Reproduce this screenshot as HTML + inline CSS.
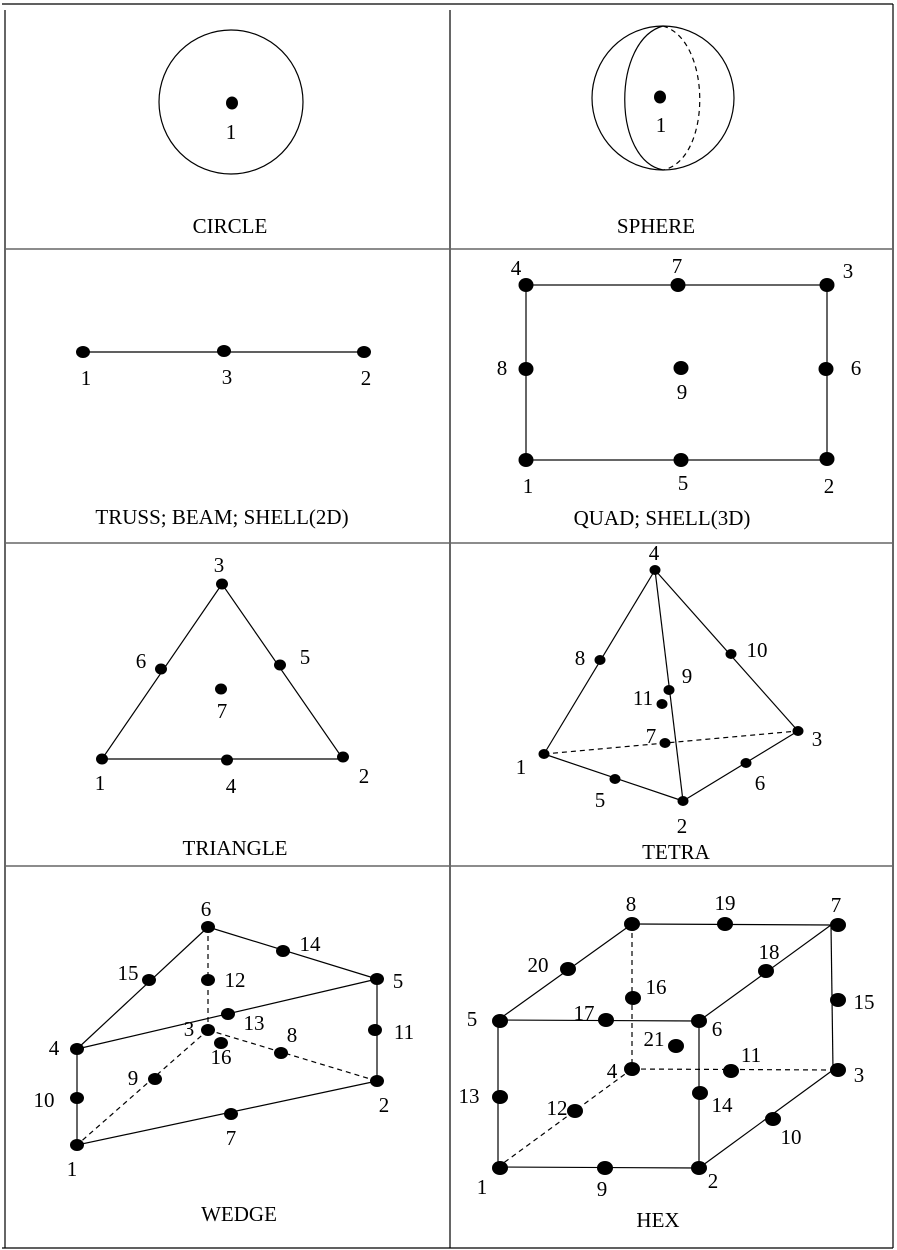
<!DOCTYPE html>
<html><head><meta charset="utf-8"><style>
html,body{margin:0;padding:0;background:#fff}
svg{display:block}
text{font-family:"Liberation Serif",serif;font-size:21px;fill:#000}
.l{stroke:#000;stroke-width:1.2;fill:none}
.d{stroke:#000;stroke-width:1.2;fill:none;stroke-dasharray:5,4}
</style></head><body>
<svg width="897" height="1250" viewBox="0 0 897 1250">
<line x1="2" y1="4" x2="893" y2="4" class="l"/>
<line x1="5" y1="10" x2="5" y2="1248" class="l"/>
<line x1="893" y1="4" x2="893" y2="1248" class="l"/>
<line x1="2" y1="1248" x2="893" y2="1248" class="l"/>
<line x1="450" y1="10" x2="450" y2="1248" class="l"/>
<line x1="5" y1="249" x2="893" y2="249" stroke="#666" stroke-width="1.5"/>
<line x1="5" y1="543" x2="893" y2="543" stroke="#666" stroke-width="1.5"/>
<line x1="5" y1="866" x2="893" y2="866" stroke="#666" stroke-width="1.5"/>

<ellipse cx="231" cy="102" rx="72" ry="72" class="l"/>
<ellipse cx="232" cy="103" rx="6" ry="6.5"/>
<text x="231" y="139" text-anchor="middle">1</text>
<text x="230" y="233" text-anchor="middle">CIRCLE</text>

<ellipse cx="663" cy="98" rx="71" ry="72" class="l"/>
<path d="M663 26 C612 40 612 160 663 170" class="l"/>
<path d="M663 26 C712 40 712 160 663 170" class="d" stroke-dasharray="4,4"/>
<ellipse cx="660" cy="97" rx="6" ry="6.5"/>
<text x="661" y="132" text-anchor="middle">1</text>
<text x="656" y="233" text-anchor="middle">SPHERE</text>

<line x1="83" y1="352" x2="364" y2="352" class="l"/>
<ellipse cx="83" cy="352" rx="7" ry="6"/><ellipse cx="224" cy="351" rx="7" ry="6"/><ellipse cx="364" cy="352" rx="7" ry="6"/>
<text x="86" y="385" text-anchor="middle">1</text>
<text x="227" y="384" text-anchor="middle">3</text>
<text x="366" y="385" text-anchor="middle">2</text>
<text x="222" y="524" text-anchor="middle">TRUSS; BEAM; SHELL(2D)</text>

<rect x="526" y="285" width="301" height="175" class="l"/>
<g>
<ellipse cx="526" cy="285" rx="7.5" ry="7"/><ellipse cx="678" cy="285" rx="7.5" ry="7"/><ellipse cx="827" cy="285" rx="7.5" ry="7"/>
<ellipse cx="526" cy="369" rx="7.5" ry="7"/><ellipse cx="681" cy="368" rx="7.5" ry="7"/><ellipse cx="826" cy="369" rx="7.5" ry="7"/>
<ellipse cx="526" cy="460" rx="7.5" ry="7"/><ellipse cx="681" cy="460" rx="7.5" ry="7"/><ellipse cx="827" cy="459" rx="7.5" ry="7"/>
</g>
<text x="516" y="275" text-anchor="middle">4</text>
<text x="677" y="273" text-anchor="middle">7</text>
<text x="848" y="278" text-anchor="middle">3</text>
<text x="502" y="375" text-anchor="middle">8</text>
<text x="682" y="399" text-anchor="middle">9</text>
<text x="856" y="375" text-anchor="middle">6</text>
<text x="528" y="493" text-anchor="middle">1</text>
<text x="683" y="490" text-anchor="middle">5</text>
<text x="829" y="493" text-anchor="middle">2</text>
<text x="662" y="525" text-anchor="middle">QUAD; SHELL(3D)</text>

<polygon points="222,584 102,759 343,759" class="l"/>
<g>
<ellipse cx="222" cy="584" rx="6" ry="5.5"/><ellipse cx="161" cy="669" rx="6" ry="5.5"/><ellipse cx="280" cy="665" rx="6" ry="5.5"/>
<ellipse cx="221" cy="689" rx="6" ry="5.5"/><ellipse cx="102" cy="759" rx="6" ry="5.5"/><ellipse cx="227" cy="760" rx="6" ry="5.5"/><ellipse cx="343" cy="757" rx="6" ry="5.5"/>
</g>
<text x="219" y="572" text-anchor="middle">3</text>
<text x="141" y="668" text-anchor="middle">6</text>
<text x="305" y="664" text-anchor="middle">5</text>
<text x="222" y="718" text-anchor="middle">7</text>
<text x="100" y="790" text-anchor="middle">1</text>
<text x="231" y="793" text-anchor="middle">4</text>
<text x="364" y="783" text-anchor="middle">2</text>
<text x="235" y="855" text-anchor="middle">TRIANGLE</text>

<line x1="655" y1="570" x2="544" y2="754" class="l"/>
<line x1="655" y1="570" x2="798" y2="731" class="l"/>
<line x1="655" y1="570" x2="683" y2="801" class="l"/>
<line x1="544" y1="754" x2="683" y2="801" class="l"/>
<line x1="683" y1="801" x2="798" y2="731" class="l"/>
<line x1="544" y1="754" x2="798" y2="731" class="d" stroke-dasharray="4,3"/>
<g>
<ellipse cx="655" cy="570" rx="5.5" ry="5"/><ellipse cx="600" cy="660" rx="5.5" ry="5"/><ellipse cx="731" cy="654" rx="5.5" ry="5"/>
<ellipse cx="669" cy="690" rx="5.5" ry="5"/><ellipse cx="662" cy="704" rx="5.5" ry="5"/><ellipse cx="665" cy="743" rx="5.5" ry="5"/>
<ellipse cx="798" cy="731" rx="5.5" ry="5"/><ellipse cx="544" cy="754" rx="5.5" ry="5"/><ellipse cx="746" cy="763" rx="5.5" ry="5"/>
<ellipse cx="615" cy="779" rx="5.5" ry="5"/><ellipse cx="683" cy="801" rx="5.5" ry="5"/>
</g>
<text x="654" y="560" text-anchor="middle">4</text>
<text x="580" y="665" text-anchor="middle">8</text>
<text x="757" y="657" text-anchor="middle">10</text>
<text x="687" y="683" text-anchor="middle">9</text>
<text x="643" y="705" text-anchor="middle">11</text>
<text x="651" y="743" text-anchor="middle">7</text>
<text x="817" y="746" text-anchor="middle">3</text>
<text x="521" y="774" text-anchor="middle">1</text>
<text x="760" y="790" text-anchor="middle">6</text>
<text x="600" y="807" text-anchor="middle">5</text>
<text x="682" y="833" text-anchor="middle">2</text>
<text x="676" y="859" text-anchor="middle">TETRA</text>

<line x1="208" y1="927" x2="377" y2="979" class="l"/>
<line x1="208" y1="927" x2="77" y2="1049" class="l"/>
<line x1="77" y1="1049" x2="377" y2="979" class="l"/>
<line x1="377" y1="979" x2="377" y2="1081" class="l"/>
<line x1="77" y1="1049" x2="77" y2="1145" class="l"/>
<line x1="77" y1="1145" x2="377" y2="1081" class="l"/>
<line x1="208" y1="927" x2="208" y2="1030" class="d" stroke-dasharray="3,3"/>
<line x1="208" y1="1030" x2="377" y2="1081" class="d"/>
<line x1="208" y1="1030" x2="77" y2="1145" class="d"/>
<g>
<ellipse cx="208" cy="927" rx="7" ry="6"/><ellipse cx="283" cy="951" rx="7" ry="6"/><ellipse cx="149" cy="980" rx="7" ry="6"/>
<ellipse cx="377" cy="979" rx="7" ry="6"/><ellipse cx="208" cy="980" rx="7" ry="6"/><ellipse cx="228" cy="1014" rx="7" ry="6"/>
<ellipse cx="375" cy="1030" rx="7" ry="6"/><ellipse cx="208" cy="1030" rx="7" ry="6"/><ellipse cx="221" cy="1043" rx="7" ry="6"/>
<ellipse cx="281" cy="1053" rx="7" ry="6"/><ellipse cx="77" cy="1049" rx="7" ry="6"/><ellipse cx="155" cy="1079" rx="7" ry="6"/>
<ellipse cx="377" cy="1081" rx="7" ry="6"/><ellipse cx="77" cy="1098" rx="7" ry="6"/><ellipse cx="231" cy="1114" rx="7" ry="6"/>
<ellipse cx="77" cy="1145" rx="7" ry="6"/>
</g>
<text x="206" y="916" text-anchor="middle">6</text>
<text x="310" y="951" text-anchor="middle">14</text>
<text x="128" y="980" text-anchor="middle">15</text>
<text x="398" y="988" text-anchor="middle">5</text>
<text x="235" y="987" text-anchor="middle">12</text>
<text x="254" y="1030" text-anchor="middle">13</text>
<text x="404" y="1039" text-anchor="middle">11</text>
<text x="189" y="1036" text-anchor="middle">3</text>
<text x="54" y="1055" text-anchor="middle">4</text>
<text x="292" y="1042" text-anchor="middle">8</text>
<text x="221" y="1064" text-anchor="middle">16</text>
<text x="133" y="1085" text-anchor="middle">9</text>
<text x="384" y="1112" text-anchor="middle">2</text>
<text x="44" y="1107" text-anchor="middle">10</text>
<text x="231" y="1145" text-anchor="middle">7</text>
<text x="72" y="1176" text-anchor="middle">1</text>
<text x="239" y="1221" text-anchor="middle">WEDGE</text>

<line x1="632" y1="924" x2="831" y2="925" class="l"/>
<line x1="632" y1="924" x2="498" y2="1020" class="l"/>
<line x1="831" y1="925" x2="699" y2="1021" class="l"/>
<line x1="498" y1="1020" x2="699" y2="1021" class="l"/>
<line x1="831" y1="925" x2="833" y2="1070" class="l"/>
<line x1="498" y1="1020" x2="498" y2="1167" class="l"/>
<line x1="699" y1="1021" x2="699" y2="1168" class="l"/>
<line x1="498" y1="1167" x2="699" y2="1168" class="l"/>
<line x1="699" y1="1168" x2="833" y2="1070" class="l"/>
<line x1="632" y1="924" x2="632" y2="1069" class="d" stroke-dasharray="3,3"/>
<line x1="632" y1="1069" x2="833" y2="1070" class="d"/>
<line x1="632" y1="1069" x2="498" y2="1167" class="d"/>
<g>
<ellipse cx="632" cy="924" rx="8" ry="7"/><ellipse cx="725" cy="924" rx="8" ry="7"/><ellipse cx="838" cy="925" rx="8" ry="7"/>
<ellipse cx="568" cy="969" rx="8" ry="7"/><ellipse cx="766" cy="971" rx="8" ry="7"/><ellipse cx="633" cy="998" rx="8" ry="7"/>
<ellipse cx="838" cy="1000" rx="8" ry="7"/><ellipse cx="500" cy="1021" rx="8" ry="7"/><ellipse cx="606" cy="1020" rx="8" ry="7"/>
<ellipse cx="699" cy="1021" rx="8" ry="7"/><ellipse cx="676" cy="1046" rx="8" ry="7"/><ellipse cx="632" cy="1069" rx="8" ry="7"/>
<ellipse cx="731" cy="1071" rx="8" ry="7"/><ellipse cx="838" cy="1070" rx="8" ry="7"/><ellipse cx="500" cy="1097" rx="8" ry="7"/>
<ellipse cx="700" cy="1093" rx="8" ry="7"/><ellipse cx="575" cy="1111" rx="8" ry="7"/><ellipse cx="773" cy="1119" rx="8" ry="7"/>
<ellipse cx="500" cy="1168" rx="8" ry="7"/><ellipse cx="605" cy="1168" rx="8" ry="7"/><ellipse cx="699" cy="1168" rx="8" ry="7"/>
</g>
<text x="631" y="911" text-anchor="middle">8</text>
<text x="725" y="910" text-anchor="middle">19</text>
<text x="836" y="912" text-anchor="middle">7</text>
<text x="538" y="972" text-anchor="middle">20</text>
<text x="769" y="959" text-anchor="middle">18</text>
<text x="656" y="994" text-anchor="middle">16</text>
<text x="864" y="1009" text-anchor="middle">15</text>
<text x="472" y="1026" text-anchor="middle">5</text>
<text x="584" y="1020" text-anchor="middle">17</text>
<text x="717" y="1036" text-anchor="middle">6</text>
<text x="654" y="1046" text-anchor="middle">21</text>
<text x="751" y="1062" text-anchor="middle">11</text>
<text x="612" y="1078" text-anchor="middle">4</text>
<text x="859" y="1082" text-anchor="middle">3</text>
<text x="469" y="1103" text-anchor="middle">13</text>
<text x="722" y="1112" text-anchor="middle">14</text>
<text x="557" y="1115" text-anchor="middle">12</text>
<text x="791" y="1144" text-anchor="middle">10</text>
<text x="482" y="1194" text-anchor="middle">1</text>
<text x="602" y="1196" text-anchor="middle">9</text>
<text x="713" y="1188" text-anchor="middle">2</text>
<text x="658" y="1227" text-anchor="middle">HEX</text>
</svg>
</body></html>
